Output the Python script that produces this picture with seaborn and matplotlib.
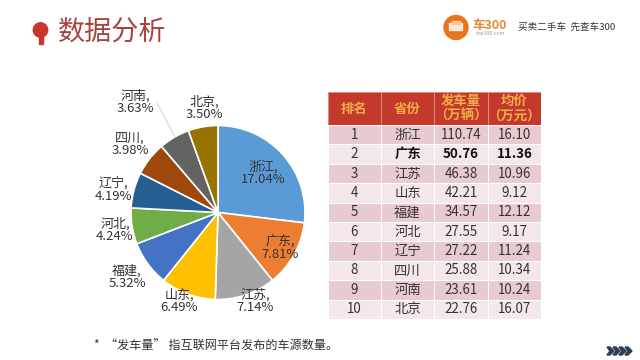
import numpy as np
import matplotlib
matplotlib.use("Agg")
import matplotlib.pyplot as plt
from matplotlib.colors import ListedColormap
from matplotlib.patches import Circle, Polygon, Rectangle, FancyBboxPatch
import seaborn as sns

provinces = ["浙江", "广东", "江苏", "山东", "福建", "河北", "辽宁", "四川", "河南", "北京"]
shares = [17.04, 7.81, 7.14, 6.49, 5.32, 4.24, 4.19, 3.98, 3.63, 3.50]
volumes = ["110.74", "50.76", "46.38", "42.21", "34.57", "27.55", "27.22", "25.88", "23.61", "22.76"]
prices = ["16.10", "11.36", "10.96", "9.12", "12.12", "9.17", "11.24", "10.34", "10.24", "16.07"]
headers = ["排名", "省份", "发车量\n（万辆）", "均价\n（万元）"]

pie_colors = ["#5B9BD5", "#ED7D31", "#A5A5A5", "#FFC000", "#4472C4",
              "#70AD47", "#255E91", "#9E480E", "#636363", "#997300"]
# label centres in pixels, measured from the top left of the picture
label_xy = [(263, 173), (280, 248), (255, 301), (179, 301), (127, 277),
            (115, 230), (113, 190), (130, 144), (135, 102), (204, 108)]

W, H = 640, 360
sns.set_theme(style="white")
plt.rcParams["font.family"] = ["Noto Sans CJK SC", "DejaVu Sans"]

fig = plt.figure(figsize=(W / 100, H / 100), dpi=100, facecolor="white")


def px_axes(x0, y0, x1, y1):
    return fig.add_axes([x0 / W, 1 - y1 / H, (x1 - x0) / W, (y1 - y0) / H])


# overlay in pixel coordinates for the slide furniture
deco = fig.add_axes([0, 0, 1, 1])
deco.set_xlim(0, W)
deco.set_ylim(H, 0)
deco.axis("off")

# title and pin
deco.add_patch(Circle((40.5, 30), 7.2, color="#C8352B"))
deco.add_patch(Rectangle((38.5, 34), 4, 10, color="#C8352B"))
deco.text(58, 32, "数据分析", fontsize=19.5, color="#A5443F", va="center", ha="left")

# logo
deco.add_patch(Circle((456, 27.5), 12, color="#E8741E"))
deco.add_patch(FancyBboxPatch((450, 24), 12, 6, boxstyle="round,pad=0.5", color="#FBE9D8"))
deco.add_patch(Rectangle((452, 21), 8, 3, color="#F6C9A0"))
deco.text(490, 25.5, "车300", fontsize=9, fontweight="bold", color="#E58A35", ha="center", va="center")
deco.text(490, 33.5, "che300.com", fontsize=3.8, color="#999999", ha="center", va="center")
deco.text(518, 27, "买卖二手车  先查车300", fontsize=6.9, color="#333333", ha="left", va="center")

# pie
ax_pie = px_axes(131, 125.5, 305, 299.5)
ax_pie.pie(shares, colors=pie_colors, startangle=90, counterclock=False, radius=1,
           wedgeprops={"edgecolor": "white", "linewidth": 1.2})
ax_pie.set_xlim(-1, 1)
ax_pie.set_ylim(-1, 1)

deco.plot([157, 175], [103, 137], color="#D5D5D5", lw=0.8, zorder=5)
deco.set_zorder(3)
deco.patch.set_alpha(0)
for name, share, (lx, ly) in zip(provinces, shares, label_xy):
    deco.text(lx, ly, f"{name},\n{share:.2f}%", fontsize=9.4, color="#333333",
              ha="center", va="center", linespacing=0.95)

# table header
ax_head = px_axes(327.5, 92, 541, 125)
sns.heatmap(np.zeros((1, 4)), ax=ax_head, cmap=ListedColormap(["#C33A2C"]), cbar=False,
            annot=np.array([headers]), fmt="", linewidths=0.6, linecolor="#E08A7E",
            annot_kws={"fontsize": 9.6, "fontweight": "bold", "color": "#F2AE4B", "linespacing": 1.1},
            xticklabels=False, yticklabels=False)

# table body
ranks = [str(i + 1) for i in range(len(provinces))]
cells = np.array([ranks, provinces, volumes, prices]).T
stripes = np.array([[i % 2] * 4 for i in range(len(provinces))])
ax_body = px_axes(327.5, 125, 541, 319)
sns.heatmap(stripes, ax=ax_body, cmap=ListedColormap(["#E8CBD0", "#F4E7E9"]), cbar=False,
            annot=cells, fmt="", linewidths=0.6, linecolor="white",
            annot_kws={"fontsize": 9.6, "color": "#333333"},
            xticklabels=False, yticklabels=False)
for t in ax_body.texts:
    if t.get_text() in ("广东", "50.76", "11.36"):
        t.set_fontweight("bold")
        t.set_color("#111111")

# footnote and page arrows
deco.text(94, 346, "*  “发车量” 指互联网平台发布的车源数量。", fontsize=8.7, color="#333333",
          ha="left", va="center")
for x in (607, 613, 619, 625):
    deco.add_patch(Polygon([(x, 347), (x + 3, 347), (x + 7, 351), (x + 3, 355), (x, 355), (x + 3, 351)],
                           color="#2C3E50"))

fig.savefig("out.png", dpi=100)
